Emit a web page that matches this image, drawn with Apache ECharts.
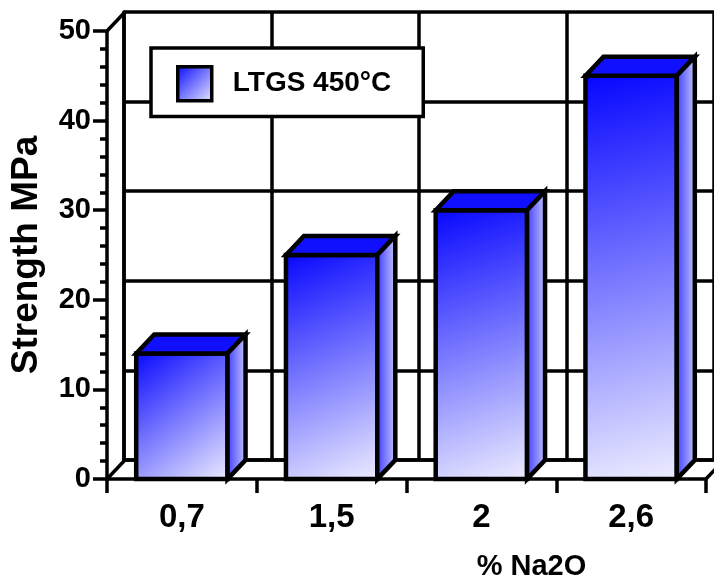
<!DOCTYPE html>
<html><head><meta charset="utf-8">
<script src="https://cdn.jsdelivr.net/npm/echarts@6/dist/echarts.min.js"></script>
<style>html,body{margin:0;padding:0;background:#fff}#c{width:714px;height:586px}</style>
</head><body><div id="c"></div>
<script>
// ---- data ----
const categories = ['0,7', '1,5', '2', '2,6'];
const strength = [14, 25, 30, 45];
const seriesName = 'LTGS 450°C';
const xName = '% Na2O';
const yName = 'Strength MPa';
const yMin = 0, yMax = 50, yStep = 10;

// ---- style ----
const DX = 18, DY = 19;
const FONT = '"Liberation Sans", Arial, sans-serif';
function frontGrad() {
  return new echarts.graphic.LinearGradient(0, 0, 1, 1, [
    { offset: 0, color: '#0505ff' }, { offset: 1, color: '#eeeeff' }]);
}
function sideGrad() {
  return new echarts.graphic.LinearGradient(0, 0, 1, 0, [
    { offset: 0, color: '#3232ff' }, { offset: 1, color: '#d0d0ff' }]);
}
const chart = echarts.init(document.getElementById('c'), null, { renderer: 'canvas' });
const black3 = { color: '#000', width: 3.5 };

const option = {
  backgroundColor: '#fff',
  animation: false,
  textStyle: { fontFamily: FONT },
  legend: {
    left: 151, top: 48,
    padding: [17, 32, 14, 25],
    backgroundColor: '#fff', borderColor: '#000', borderWidth: 3.5, borderRadius: 0,
    itemWidth: 34, itemHeight: 34,
    textStyle: { fontFamily: FONT, fontSize: 28, fontWeight: 'bold', color: '#000', padding: [0, 0, 0, 16] },
    data: [{ name: seriesName, icon: 'rect',
      itemStyle: { color: frontGrad(), borderColor: '#000', borderWidth: 3.5 } }]
  },
  grid: [
    { left: 106, top: 31, width: 600, height: 448 },
    { left: 106 + DX, top: 31 - DY, width: 600, height: 448 }
  ],
  xAxis: [
    { type: 'category', gridIndex: 0, data: categories, z: 4,
      axisLine: { lineStyle: black3 },
      axisTick: { show: true, length: 14, lineStyle: black3 },
      axisLabel: { fontFamily: FONT, fontSize: 33, fontWeight: 'bold', color: '#000', margin: 22 },
      splitLine: { show: false },
      name: xName, nameLocation: 'middle', nameGap: 73,
      nameTextStyle: { fontFamily: FONT, fontSize: 29, fontWeight: 'bold', color: '#000', padding: [0, 0, 0, 250] }
    },
    { type: 'category', gridIndex: 1, data: categories, z: 0,
      axisLine: { lineStyle: black3 }, axisTick: { show: false }, axisLabel: { show: false },
      splitLine: { show: true, lineStyle: black3 }
    }
  ],
  yAxis: [
    { type: 'value', gridIndex: 0, min: yMin, max: yMax, interval: yStep, z: 4,
      axisLine: { show: true, lineStyle: black3 },
      axisTick: { show: true, length: 14, lineStyle: black3 },
      minorTick: { show: true, splitNumber: 5, length: 7, lineStyle: black3 },
      axisLabel: { fontFamily: FONT, fontSize: 29, fontWeight: 'bold', color: '#000', margin: 16 },
      splitLine: { show: false },
      name: yName, nameLocation: 'middle', nameGap: 62, nameRotate: 90,
      nameTextStyle: { fontFamily: FONT, fontSize: 37, fontWeight: 'bold', color: '#000' }
    },
    { type: 'value', gridIndex: 1, min: yMin, max: yMax, interval: yStep, z: 0,
      axisLine: { show: true, lineStyle: black3 }, axisTick: { show: false }, axisLabel: { show: false },
      splitLine: { show: true, lineStyle: black3 }
    }
  ],
  series: [
    { type: 'custom', name: 'frame', xAxisIndex: 0, yAxisIndex: 0, z: 1, silent: true,
      data: [[0, yMin]],
      renderItem: function (params, api) {
        const bw = api.size([1, 0])[0];
        const l = api.coord([0, yMin])[0] - bw / 2;
        const r = api.coord([categories.length - 1, yMin])[0] + bw / 2;
        const yb = api.coord([0, yMin])[1], yt = api.coord([0, yMax])[1];
        const st = { stroke: '#000', lineWidth: 3.5 };
        return { type: 'group', children: [
          { type: 'line', shape: { x1: l, y1: yt, x2: l + DX, y2: yt - DY }, style: st },
          { type: 'line', shape: { x1: l, y1: yb, x2: l + DX, y2: yb - DY }, style: st },
          { type: 'line', shape: { x1: r, y1: yb, x2: r + DX, y2: yb - DY }, style: st }
        ] };
      }
    },
    { type: 'custom', name: seriesName, xAxisIndex: 0, yAxisIndex: 0, z: 2,
      itemStyle: { color: '#2a2aff' },
      encode: { x: 0, y: 1 },
      data: strength.map((v, i) => [i, v]),
      renderItem: function (params, api) {
        const i = api.value(0), v = api.value(1);
        const top = api.coord([i, v]), base = api.coord([i, yMin]);
        const bw = api.size([1, 0])[0] * 0.61;
        const x0 = top[0] - bw / 2, x1 = top[0] + bw / 2, yt = top[1], yb = base[1];
        const ls = { stroke: '#000', lineWidth: 4.5, lineJoin: 'miter' };
        return { type: 'group', children: [
          { type: 'rect', shape: { x: x0, y: yt, width: bw, height: yb - yt },
            style: Object.assign({ fill: frontGrad() }, ls) },
          { type: 'polygon', shape: { points: [[x0, yt], [x0 + DX, yt - DY], [x1 + DX, yt - DY], [x1, yt]] },
            style: Object.assign({ fill: '#1010ff' }, ls) },
          { type: 'polygon', shape: { points: [[x1, yt], [x1 + DX, yt - DY], [x1 + DX, yb - DY], [x1, yb]] },
            style: Object.assign({ fill: sideGrad() }, ls) }
        ] };
      }
    }
  ]
};
chart.setOption(option);
</script>
</body></html>
